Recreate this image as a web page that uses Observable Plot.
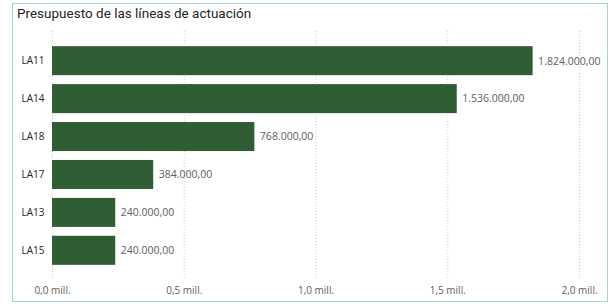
<!DOCTYPE html>
<html>
<head>
<meta charset="utf-8">
<script src="https://cdn.jsdelivr.net/npm/d3@7"></script>
<script src="https://cdn.jsdelivr.net/npm/@observablehq/plot@0.6"></script>
<style>
  html, body { margin: 0; padding: 0; background: #fff; }
  #wrap { position: relative; width: 613px; height: 304px; overflow: hidden; }
  #border { position: absolute; left: 12px; top: 3px; width: 594px; height: 297px; border: 1px solid #a6d2d4; box-sizing: content-box; pointer-events: none; }
  #title { position: absolute; left: 17px; top: 5px; font-family: Roboto, "Open Sans", sans-serif; font-size: 13.5px; color: #252423; white-space: nowrap; }
  #chart { position: absolute; left: 0; top: 30px; }
</style>
</head>
<body>
<div id="wrap">
  <div id="title">Presupuesto de las líneas de actuación</div>
  <div id="chart"></div>
  <div id="border"></div>
</div>
<script>
const categories = ["LA11", "LA14", "LA18", "LA17", "LA13", "LA15"];
const values = [1824000, 1536000, 768000, 384000, 240000, 240000];
const xTicks = [0, 500000, 1000000, 1500000, 2000000];

const data = categories.map((c, i) => ({cat: c, value: values[i]}));
const es = d3.formatLocale({decimal: ",", thousands: ".", grouping: [3], currency: ["", "€"]});
const fmtVal = es.format(",.2f");
const fmtTick = d => (d / 1e6).toFixed(1).replace(".", ",") + " mill.";

const chart = Plot.plot({
  width: 613,
  height: 274,
  marginLeft: 52,
  marginRight: 34,
  marginTop: 1,
  marginBottom: 24,
  style: { fontFamily: "'Open Sans', sans-serif", fontSize: "10px", background: "transparent" },
  x: { domain: [0, 2000000], ticks: xTicks, tickFormat: fmtTick, label: null },
  y: { domain: categories, paddingInner: 0.235, paddingOuter: 0.4, round: false, label: null },
  marks: [
    Plot.ruleX(xTicks, { stroke: "#cccccc", strokeDasharray: "1,2", strokeWidth: 1 }),
    Plot.barX(data, { x: "value", y: "cat", fill: "#2f5e34" }),
    Plot.text(data, { x: "value", y: "cat", text: d => fmtVal(d.value), textAnchor: "start", dx: 5, fill: "#605e5c", fontSize: 10.5 }),
    Plot.axisX({ ticks: xTicks, tickFormat: fmtTick, tickSize: 0, tickPadding: 6, fill: "#605e5c", fontSize: 10, label: null }),
    Plot.axisY({ tickSize: 0, tickPadding: 8, fill: "#252423", fontSize: 10, label: null })
  ]
});
document.getElementById("chart").appendChild(chart);
</script>
</body>
</html>
